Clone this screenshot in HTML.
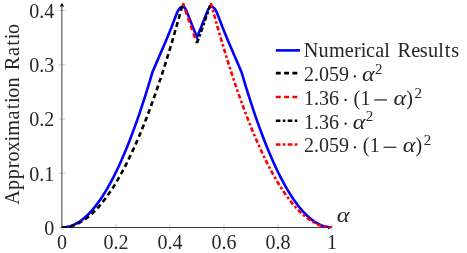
<!DOCTYPE html>
<html><head><meta charset="utf-8"><style>
html,body{margin:0;padding:0;background:#fff;}
svg{display:block;}
.tx{opacity:0.999;}
text{font-family:"Liberation Serif",serif;font-size:20px;fill:#262626;}
.it{font-style:italic;}
</style></head><body>
<svg width="467" height="253" viewBox="0 0 467 253">
<rect width="467" height="253" fill="#fff"/>
<g stroke="#777" stroke-width="0.4"><line x1="61.90" y1="224.30" x2="61.90" y2="230.70"/><line x1="115.92" y1="224.30" x2="115.92" y2="230.70"/><line x1="169.94" y1="224.30" x2="169.94" y2="230.70"/><line x1="223.96" y1="224.30" x2="223.96" y2="230.70"/><line x1="277.98" y1="224.30" x2="277.98" y2="230.70"/><line x1="332.00" y1="224.30" x2="332.00" y2="230.70"/><line x1="58.70" y1="227.50" x2="65.10" y2="227.50"/><line x1="58.70" y1="173.26" x2="65.10" y2="173.26"/><line x1="58.70" y1="119.03" x2="65.10" y2="119.03"/><line x1="58.70" y1="64.79" x2="65.10" y2="64.79"/><line x1="58.70" y1="10.55" x2="65.10" y2="10.55"/></g>
<g stroke="#3c3c3c" stroke-width="1" fill="none">
<line x1="61.9" y1="227.9" x2="61.9" y2="5.5"/>
<line x1="61.5" y1="227.5" x2="332.0" y2="227.5"/>
</g>
<path d="M61.9,2.8 L64.2,7 L61.9,5.9 L59.6,7 Z" fill="#000"/>
<path d="M331.8,227.5 L327.6,225.3 L328.7,227.5 L327.6,229.7 Z" fill="#000"/>
<clipPath id="cp"><rect x="61.5" y="2.8" width="270.70000000000005" height="225.1"/></clipPath>
<g fill="none" stroke-width="2.6" stroke-linejoin="miter" clip-path="url(#cp)">
<polyline points="61.90,227.50 64.17,227.40 66.43,227.11 68.70,226.62 70.96,225.94 73.23,225.07 75.49,224.00 77.76,222.73 80.02,221.28 82.29,219.62 84.55,217.77 86.82,215.73 89.09,213.49 91.35,211.06 93.62,208.44 95.88,205.62 98.15,202.60 100.41,199.39 102.68,195.99 104.94,192.39 107.21,188.60 109.47,184.61 111.74,180.43 114.01,176.05 116.27,171.48 118.54,166.71 120.80,161.75 123.07,156.60 125.33,151.25 127.60,145.70 129.86,139.97 132.13,134.03 134.39,127.91 136.66,121.58 138.93,115.07 141.19,108.36 143.46,101.45 145.72,94.35 147.99,87.06 150.25,79.57 152.52,71.88 166.30,40.00 171.30,27.80 174.90,18.20 177.20,12.40 179.00,9.00 180.90,7.00 182.60,6.40 184.30,7.20 185.90,9.60 189.20,17.80 192.20,25.50 197.00,37.30 201.80,25.50 204.80,17.80 208.10,9.60 209.70,7.20 211.40,6.40 213.10,7.00 215.00,9.00 216.80,12.40 219.10,18.20 222.70,27.80 227.70,40.00 241.48,71.88 243.75,79.57 246.01,87.06 248.28,94.35 250.54,101.45 252.81,108.36 255.07,115.07 257.34,121.58 259.61,127.91 261.87,134.03 264.14,139.97 266.40,145.70 268.67,151.25 270.93,156.60 273.20,161.75 275.46,166.71 277.73,171.48 279.99,176.05 282.26,180.43 284.53,184.61 286.79,188.60 289.06,192.39 291.32,195.99 293.59,199.39 295.85,202.60 298.12,205.62 300.38,208.44 302.65,211.06 304.91,213.49 307.18,215.73 309.45,217.77 311.71,219.62 313.98,221.28 316.24,222.73 318.51,224.00 320.77,225.07 323.04,225.94 325.30,226.62 327.57,227.11 329.83,227.40 332.10,227.50" stroke="#0000ff"/>
<polyline points="61.90,227.50 63.92,227.44 65.94,227.25 67.95,226.94 69.97,226.50 71.99,225.94 74.01,225.26 76.03,224.44 78.05,223.51 80.06,222.45 82.08,221.26 84.10,219.95 86.12,218.52 88.14,216.96 90.16,215.28 92.17,213.47 94.19,211.54 96.21,209.48 98.23,207.30 100.25,204.99 102.27,202.56 104.28,200.00 106.30,197.32 108.32,194.51 110.34,191.58 112.36,188.53 114.38,185.35 116.39,182.04 118.41,178.61 120.43,175.06 122.45,171.38 124.47,167.58 126.49,163.65 128.50,159.59 130.52,155.42 132.54,151.11 134.56,146.69 136.58,142.14 138.60,137.46 140.61,132.66 142.63,127.73 144.65,122.68 146.67,117.51 148.69,112.20 150.70,106.78 152.72,101.23 154.74,95.56 156.76,89.76 158.78,83.83 160.80,77.78 162.81,71.61 164.83,65.31 166.85,58.89 168.87,52.34 170.89,45.67 172.91,38.87 174.92,31.95 176.94,24.91 178.96,17.74 180.98,10.44 183.00,3.02" stroke="#000" stroke-dasharray="4.9 3.4"/>
<polyline points="183.00,3.02 184.39,7.20 185.79,11.35 187.18,15.46 188.58,19.52 189.97,23.55 191.37,27.54 192.76,31.48 194.16,35.39 195.55,39.26 196.95,43.09" stroke="#ff0000" stroke-dasharray="4.9 3.4" stroke-dashoffset="1.1"/>
<polyline points="196.95,43.09 198.35,39.26 199.74,35.39 201.14,31.48 202.53,27.54 203.93,23.55 205.32,19.52 206.72,15.46 208.11,11.35 209.51,7.20 210.90,3.02" stroke="#000" stroke-dasharray="4.6 2.4 2.6 2.3"/>
<polyline points="210.90,3.02 212.92,10.44 214.94,17.74 216.96,24.91 218.98,31.95 220.99,38.87 223.01,45.67 225.03,52.34 227.05,58.89 229.07,65.31 231.09,71.61 233.10,77.78 235.12,83.83 237.14,89.76 239.16,95.56 241.18,101.23 243.20,106.78 245.21,112.20 247.23,117.51 249.25,122.68 251.27,127.73 253.29,132.66 255.30,137.46 257.32,142.14 259.34,146.69 261.36,151.11 263.38,155.42 265.40,159.59 267.41,163.65 269.43,167.58 271.45,171.38 273.47,175.06 275.49,178.61 277.51,182.04 279.52,185.35 281.54,188.53 283.56,191.58 285.58,194.51 287.60,197.32 289.62,200.00 291.63,202.56 293.65,204.99 295.67,207.30 297.69,209.48 299.71,211.54 301.73,213.47 303.74,215.28 305.76,216.96 307.78,218.52 309.80,219.95 311.82,221.26 313.84,222.45 315.85,223.51 317.87,224.44 319.89,225.26 321.91,225.94 323.93,226.50 325.95,226.94 327.96,227.25 329.98,227.44 332.00,227.50" stroke="#ff0000" stroke-dasharray="4.6 2.4 2.6 2.3"/>
</g>
<g fill="none" stroke-width="2.6">
<line x1="275.8" y1="50.4" x2="300" y2="50.4" stroke="#0000ff"/>
<line x1="275.8" y1="73.1" x2="300" y2="73.1" stroke="#000" stroke-dasharray="4.9 3.4"/>
<line x1="275.8" y1="97.0" x2="300" y2="97.0" stroke="#ff0000" stroke-dasharray="4.9 3.4"/>
<line x1="275.8" y1="120.8" x2="298" y2="120.8" stroke="#000" stroke-dasharray="4.6 2.4 2.6 2.3"/>
<line x1="275.8" y1="144.5" x2="298" y2="144.5" stroke="#ff0000" stroke-dasharray="4.6 2.4 2.6 2.3"/>
</g>
<g class="tx">
<text x="61.90" y="248.6" text-anchor="middle">0</text><text x="115.92" y="248.6" text-anchor="middle">0.2</text><text x="169.94" y="248.6" text-anchor="middle">0.4</text><text x="223.96" y="248.6" text-anchor="middle">0.6</text><text x="277.98" y="248.6" text-anchor="middle">0.8</text><text x="332.00" y="248.6" text-anchor="middle">1</text><text x="54.2" y="234.90" text-anchor="end">0</text><text x="54.2" y="180.66" text-anchor="end">0.1</text><text x="54.2" y="126.43" text-anchor="end">0.2</text><text x="54.2" y="72.19" text-anchor="end">0.3</text><text x="54.2" y="17.95" text-anchor="end">0.4</text>
<text class="it" transform="translate(336.7,221.5) scale(1.22,1.08)">α</text>
<text transform="translate(18.7,204.7) rotate(-90)" x="-0.09 14.77 25.50 36.34 43.25 53.17 63.20 68.85 85.10 95.37 101.80 107.06 117.25 128.36 134.45 148.64 158.90 165.34 170.59" style="font-size:20.3px">Approximation Ratio</text>
<text x="303.77 318.56 329.08 344.72 353.88 360.87 366.11 375.18 384.33 390.48 397.39 411.13 419.83 427.95 438.31 444.80 451.28" y="56.6" style="font-size:20.3px">Numerical Results</text>
<text x="303.9" y="81.2">2.059</text><circle cx="354.9" cy="76.4" r="1.15" fill="#111"/><text class="it" text-anchor="middle" transform="translate(368.4,81.2) scale(1.2,1.04)">α</text><text text-anchor="middle" x="378.8" y="74.0" style="font-size:15px">2</text><text x="303.9" y="104.8">1.36</text><circle cx="345.6" cy="100.0" r="1.15" fill="#111"/><text text-anchor="middle" x="356.9" y="104.8">(</text><text text-anchor="middle" x="365.4" y="104.8">1</text><rect x="374.2" y="99.4" width="12.8" height="1.1" fill="#111"/><text class="it" text-anchor="middle" transform="translate(399.8,104.8) scale(1.2,1.04)">α</text><text text-anchor="middle" x="409.6" y="104.8">)</text><text text-anchor="middle" x="418.2" y="97.6" style="font-size:15px">2</text><text x="303.9" y="128.5">1.36</text><circle cx="345.6" cy="123.7" r="1.15" fill="#111"/><text class="it" text-anchor="middle" transform="translate(359.1,128.5) scale(1.2,1.04)">α</text><text text-anchor="middle" x="369.5" y="121.3" style="font-size:15px">2</text><text x="303.9" y="152.1">2.059</text><circle cx="354.9" cy="147.3" r="1.15" fill="#111"/><text text-anchor="middle" x="366.2" y="152.1">(</text><text text-anchor="middle" x="374.7" y="152.1">1</text><rect x="383.5" y="146.7" width="12.8" height="1.1" fill="#111"/><text class="it" text-anchor="middle" transform="translate(409.1,152.1) scale(1.2,1.04)">α</text><text text-anchor="middle" x="418.9" y="152.1">)</text><text text-anchor="middle" x="427.5" y="144.9" style="font-size:15px">2</text>
</g>
</svg>
</body></html>
